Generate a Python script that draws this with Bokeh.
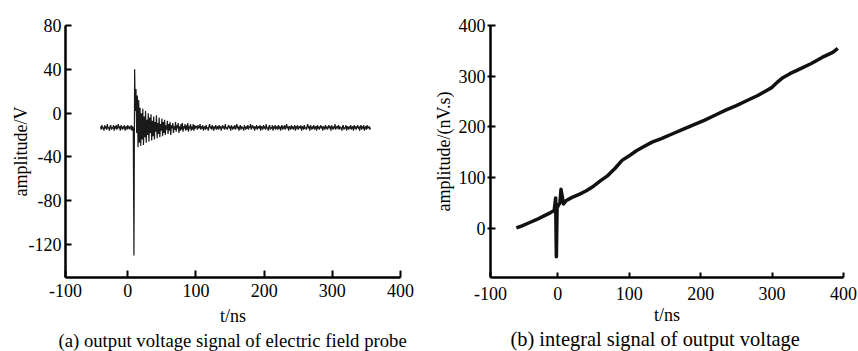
from bokeh.plotting import figure
from bokeh.layouts import row
from bokeh.models import Range1d, FixedTicker, Title
from bokeh.embed import file_html
from bokeh.resources import INLINE

FONT = "Liberation Serif"

# ---------------- (a) output voltage of the electric field probe ----------------
t_pre = list(range(-40, 9))
v_pre = [-12, -15, -11, -14, -13, -16, -11, -14, -12, -15, -10, -14, -13, -16, -12, -11, -15, -13, -14, -11,
         -16, -12, -14, -11, -15, -13, -10, -14, -12, -16, -11, -13, -15, -12, -14, -11, -16, -13, -12, -15,
         -11, -14, -12, -15, -13, -11, -16, -12, -14]

t_burst = list(range(9, 101))
v_burst = [-130, 40, 2, 22, -18, 16, -31, 12, -27, 5, -30, 0,
           -24, 4, -29, -3, -22, 2, -27, -6, -20, 0,
           -26, -4, -18, -1, -25, -7, -21, -3, -24, -8,
           -17, -2, -23, -9, -19, -4, -22, -10, -16, -5,
           -21, -8, -18, -6, -20, -11, -15, -7, -19, -10,
           -16, -8, -20, -11, -14, -9, -18, -12, -15, -8,
           -17, -11, -14, -9, -18, -12, -16, -10, -15, -9,
           -17, -12, -14, -10, -16, -11, -15, -9, -17, -12,
           -14, -10, -16, -12, -15, -10, -16, -11, -14, -12]

t_post = list(range(101, 357))
v_post = [-12, -15, -11, -14, -13, -10, -15, -12, -14, -11, -16, -13, -12, -15, -11, -14,
          -13, -16, -12, -10, -14, -12, -15, -11, -13, -16, -12, -14, -11, -15, -13, -12,
          -15, -11, -14, -12, -16, -13, -11, -14, -12, -15, -10, -14, -13, -15, -12, -11,
          -14, -12, -16, -11, -13, -15, -12, -14, -11, -15, -13, -10, -14, -12, -16, -13,
          -11, -15, -12, -14, -13, -16, -11, -13, -15, -12, -14, -11, -15, -12, -13, -10,
          -15, -13, -11, -14, -12, -16, -12, -14, -11, -15, -13, -12, -14, -11, -16, -12,
          -13, -15, -11, -14, -12, -15, -10, -14, -13, -16, -12, -11, -15, -13, -14, -11,
          -16, -12, -14, -11, -15, -13, -12, -15, -11, -14, -12, -16, -13, -11, -15, -12,
          -14, -11, -15, -13, -10, -14, -12, -16, -12, -13, -15, -11, -14, -12, -15, -13,
          -11, -16, -12, -14, -11, -15, -13, -12, -14, -11, -16, -13, -12, -15, -11, -14,
          -13, -15, -12, -10, -14, -12, -16, -11, -13, -15, -12, -14, -11, -15, -13, -12,
          -16, -11, -14, -12, -15, -13, -11, -14, -12, -16, -12, -13, -15, -11, -14, -12,
          -15, -13, -11, -14, -12, -16, -11, -13, -15, -12, -14, -10, -15, -13, -12, -14,
          -11, -15, -12, -14, -13, -16, -12, -11, -15, -13, -14, -11, -16, -12, -13, -15,
          -12, -14, -11, -15, -13, -12, -16, -11, -14, -12, -15, -13, -11, -14, -12, -16,
          -13, -11, -15, -12, -14, -11, -16, -13, -12, -15, -11, -14, -13, -12, -15, -13]

t_a = t_pre + t_burst + t_post
v_a = v_pre + v_burst + v_post

# ---------------- (b) integral of output voltage ----------------
t_b = [-58, -50, -40, -30, -20, -10, -5, -3, -2, -1, 1, 3, 4.5, 8, 12, 20, 30, 40, 50,
       60, 70, 80, 90, 100, 110, 120, 132, 145, 160, 175, 190, 205, 220, 235, 250,
       265, 280, 290, 300, 308, 315, 325, 340, 355, 370, 385, 392]
v_b = [1, 5, 11, 17, 24, 31, 35, 60, -56, 40, 46, 50, 77, 48, 55, 61, 67, 74, 83,
       94, 104, 118, 134, 143, 153, 161, 170, 177, 186, 195, 204, 213, 223, 233, 242,
       252, 262, 270, 278, 289, 297, 305, 315, 325, 337, 347, 355]

# ticks and tick labels
xa_ticks = [-91.4, 0, 100, 200, 300, 400]
xb_ticks = [-94.2, 0, 100, 200, 300, 400]
ya_ticks = [-120, -80, -40, 0, 40, 80]
yb_ticks = [0, 100, 200, 300, 400]
x_first_label = "-100"
ya_labels = ["-120", "-80", "-40", "0", "40", "80"]
x_title = "t/ns"
caption_a = "(a) output voltage signal of electric field probe"
caption_b = "(b) integral signal of output voltage"


def make_fig(width, xr, yr, bl, br, bt, bb, fs):
    p = figure(width=width, height=351, x_range=Range1d(*xr), y_range=Range1d(*yr),
               output_backend="svg", toolbar_location=None,
               min_border_left=bl, min_border_right=br, min_border_top=bt,
               min_border_bottom=bb)
    p.outline_line_color = None
    p.xgrid.visible = False
    p.ygrid.visible = False
    p.background_fill_color = "white"
    p.border_fill_color = "white"
    for ax in (p.xaxis[0], p.yaxis[0]):
        ax.axis_line_width = 2.5
        ax.axis_line_color = "black"
        ax.major_tick_line_width = 2
        ax.major_tick_line_color = "black"
        ax.minor_tick_line_color = None
        ax.major_label_text_font = FONT
        ax.major_label_text_font_size = fs
        ax.major_label_text_color = "black"
        ax.axis_label_text_font = FONT
        ax.axis_label_text_font_style = "normal"
        ax.axis_label_text_font_size = "18px"
        ax.axis_label_text_color = "black"
    p.xaxis[0].axis_label = x_title
    return p


def add_caption(p, text, size, offset, standoff):
    p.add_layout(Title(text=text, align="left", offset=offset, standoff=standoff,
                       text_font=FONT, text_font_size=size, text_font_style="normal",
                       text_color="black"), "below")


# ---- panel (a)
pa = make_fig(430, (-91.4, 400), (-150, 80), 65, 30, 25, 74, "18px")
pa.xaxis[0].ticker = FixedTicker(ticks=xa_ticks)
pa.xaxis[0].major_label_overrides = {xa_ticks[0]: x_first_label}
pa.xaxis[0].major_tick_in = 7
pa.xaxis[0].major_tick_out = 0
pa.xaxis[0].major_label_standoff = 6
pa.xaxis[0].axis_label_standoff = 6
pa.yaxis[0].ticker = FixedTicker(ticks=ya_ticks)
pa.yaxis[0].major_label_overrides = dict(zip(ya_ticks, ya_labels))
pa.yaxis[0].major_tick_in = 6
pa.yaxis[0].major_tick_out = 0
pa.yaxis[0].major_label_standoff = 4
pa.yaxis[0].axis_label = "amplitude/V"
pa.yaxis[0].axis_label_standoff = -5
pa.line(t_a, v_a, line_color="#1a1a1a", line_width=1.2)
add_caption(pa, caption_a, "18.7px", -7, -2)

# ---- panel (b)
pb = make_fig(428, (-94.2, 400), (-97, 400), 57, 15, 16, 74, "18px")
pb.xaxis[0].ticker = FixedTicker(ticks=xb_ticks)
pb.xaxis[0].major_label_overrides = {xb_ticks[0]: x_first_label}
pb.xaxis[0].major_tick_in = 5
pb.xaxis[0].major_tick_out = 0
pb.xaxis[0].major_label_standoff = 9
pb.xaxis[0].axis_label_standoff = 2
pb.yaxis[0].ticker = FixedTicker(ticks=yb_ticks)
pb.yaxis[0].major_tick_in = 5
pb.yaxis[0].major_tick_out = 3
pb.yaxis[0].major_label_standoff = 2
pb.yaxis[0].axis_label = "amplitude/(nV.s)"
pb.yaxis[0].axis_label_standoff = 2
pb.line(t_b, v_b, line_color="#111111", line_width=3.5, line_join="round")
add_caption(pb, caption_b, "20.4px", 20, -4)

layout = row(pa, pb)
open("out.html", "w").write(file_html(layout, INLINE))
